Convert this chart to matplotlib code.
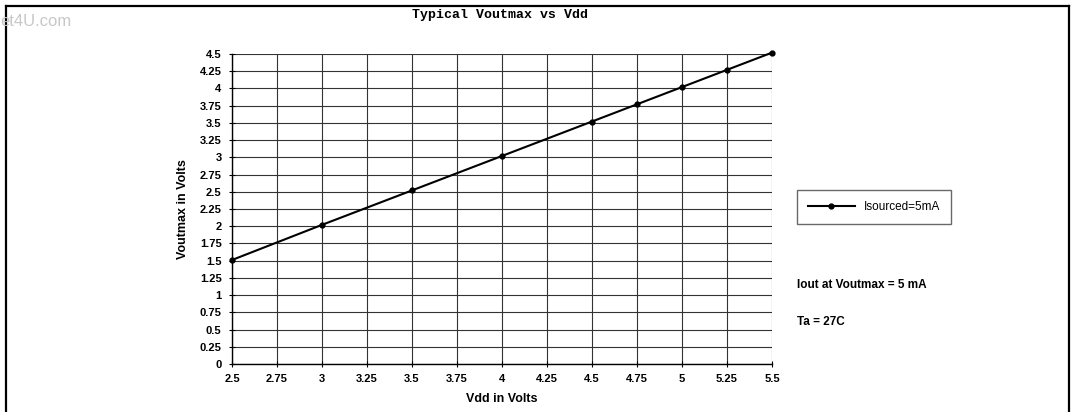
import matplotlib
matplotlib.use('Agg')
import matplotlib.pyplot as plt
from matplotlib.lines import Line2D

plt.rcParams['font.family'] = 'Liberation Sans'

# data
vdd = [2.5, 3.0, 3.5, 4.0, 4.5, 4.75, 5.0, 5.25, 5.5]
voutmax = [1.51, 2.02, 2.52, 3.02, 3.52, 3.77, 4.02, 4.27, 4.52]
xticks = [2.5, 2.75, 3, 3.25, 3.5, 3.75, 4, 4.25, 4.5, 4.75, 5, 5.25, 5.5]
xticklabels = ['2.5', '2.75', '3', '3.25', '3.5', '3.75', '4', '4.25', '4.5', '4.75', '5', '5.25', '5.5']
yticks = [0, 0.25, 0.5, 0.75, 1, 1.25, 1.5, 1.75, 2, 2.25, 2.5, 2.75, 3, 3.25, 3.5, 3.75, 4, 4.25, 4.5]
yticklabels = ['0', '0.25', '0.5', '0.75', '1', '1.25', '1.5', '1.75', '2', '2.25', '2.5', '2.75',
               '3', '3.25', '3.5', '3.75', '4', '4.25', '4.5']

fig = plt.figure(figsize=(10.71, 4.12), dpi=100)
W, H = 1071, 412

# outer frame (top, left, right)
for xs, ys in [([6, 1069], [6, 6]), ([6, 6], [6, 412]), ([1069, 1069], [6, 412])]:
    fig.add_artist(Line2D([x / W for x in xs], [1 - y / H for y in ys],
                          color='black', lw=1.6, transform=fig.transFigure))

fig.text(0.0, 1 - 21 / H, 'et4U.com', color='#c8c8c8', fontsize=12, ha='left', va='center')

ax = fig.add_axes([232 / W, 1 - 364 / H, 540 / W, 310 / H])
ax.plot(vdd, voutmax, color='black', lw=1.5, marker='o', markersize=3.5,
        label='Isourced=5mA', clip_on=False, zorder=3)
ax.set_xlim(2.5, 5.5)
ax.set_ylim(0, 4.5)
ax.set_xticks(xticks)
ax.set_xticklabels(xticklabels, fontsize=8, fontweight='bold')
ax.set_yticks(yticks)
ax.set_yticklabels(yticklabels, fontsize=8, fontweight='bold')
ax.grid(True, color='#333333', lw=0.8)
for s in ax.spines.values():
    s.set_visible(False)
ax.spines['left'].set_visible(True)
ax.spines['bottom'].set_visible(True)
ax.spines['left'].set_linewidth(1.0)
ax.spines['bottom'].set_linewidth(1.0)
ax.tick_params(direction='inout', length=5, width=0.8, pad=5)
ax.set_axisbelow(True)

ax.set_xlabel('Vdd in Volts', fontsize=9, fontweight='bold', labelpad=6)
ax.set_ylabel('Voutmax in Volts', fontsize=9, fontweight='bold', labelpad=8)

fig.text(500 / W, 1 - 15 / H, 'Typical Voutmax vs Vdd', family='Liberation Mono',
         fontweight='bold', fontsize=9.5, ha='center', va='center')

leg = ax.legend(loc='center left', bbox_to_anchor=(791 / W, 1 - 207 / H),
                bbox_transform=fig.transFigure, fontsize=8.5, frameon=True,
                fancybox=False, edgecolor='#444444', borderpad=0.9, handlelength=4.0)
leg.get_frame().set_linewidth(1.0)

fig.text(797 / W, 1 - 285 / H, 'Iout at Voutmax = 5 mA', fontsize=8.5, fontweight='bold',
         ha='left', va='center')
fig.text(797 / W, 1 - 322 / H, 'Ta = 27C', fontsize=8.5, fontweight='bold',
         ha='left', va='center')

fig.savefig('out.png', dpi=100)
